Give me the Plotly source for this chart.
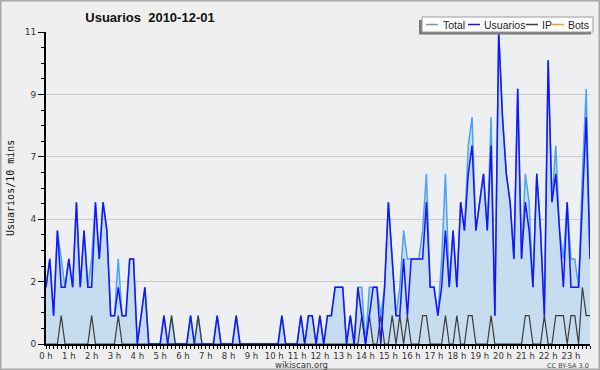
import plotly.graph_objects as go

# ---------------- data (10-minute slots, 2010-12-01) ----------------
TOTAL = [2, 3, 1, 4, 3, 2, 3, 2, 5, 2, 4, 2, 3, 5, 3, 5, 4, 1, 1, 3,
         1, 1, 3, 3, 0, 1, 2, 0, 0, 0, 0, 1, 0, 1, 0, 0, 0, 0, 1, 0,
         1, 0, 0, 0, 0, 1, 0, 0, 0, 0, 1, 0, 0, 0, 0, 0, 0, 0, 0, 0,
         0, 0, 1, 0, 0, 0, 0, 1, 0, 1, 1, 0, 1, 0, 1, 1, 2, 2, 2, 0,
         1, 0, 2, 2, 0, 2, 2, 2, 1, 2, 5, 3, 1, 2, 4, 3, 3, 3, 3, 4,
         6, 2, 2, 1, 3, 6, 2, 4, 2, 5, 4, 7, 8, 4, 5, 6, 4, 8, 1, 11,
         8, 6, 5, 3, 9, 3, 6, 5, 2, 6, 4, 1, 10, 5, 7, 4, 3, 5, 3, 3,
         2, 6, 9, 3]
USUARIOS = [2, 3, 1, 4, 2, 2, 3, 2, 5, 2, 4, 2, 2, 5, 3, 5, 4, 1, 1, 2,
            1, 1, 3, 3, 0, 1, 2, 0, 0, 0, 0, 1, 0, 0, 0, 0, 0, 0, 1, 0,
            0, 0, 0, 0, 0, 1, 0, 0, 0, 0, 1, 0, 0, 0, 0, 0, 0, 0, 0, 0,
            0, 0, 1, 0, 0, 0, 0, 1, 0, 1, 1, 0, 1, 0, 1, 1, 2, 2, 2, 0,
            1, 0, 2, 1, 0, 1, 2, 2, 0, 2, 5, 3, 1, 1, 3, 1, 3, 3, 3, 3,
            5, 2, 2, 1, 2, 4, 2, 4, 2, 5, 4, 6, 7, 4, 5, 6, 4, 7, 1, 11,
            8, 6, 5, 3, 9, 3, 5, 4, 2, 6, 4, 1, 10, 5, 6, 4, 2, 5, 2, 2,
            2, 5, 8, 3]
IP = [0, 0, 0, 0, 1, 0, 0, 0, 0, 0, 0, 0, 1, 0, 0, 0, 0, 0, 0, 1,
      0, 0, 0, 0, 0, 0, 0, 0, 0, 0, 0, 0, 0, 1, 0, 0, 0, 0, 0, 0,
      1, 0, 0, 0, 0, 0, 0, 0, 0, 0, 0, 0, 0, 0, 0, 0, 0, 0, 0, 0,
      0, 0, 0, 0, 0, 0, 0, 0, 0, 0, 0, 0, 0, 0, 0, 0, 0, 0, 0, 0,
      0, 0, 0, 1, 0, 1, 0, 0, 1, 0, 0, 1, 0, 1, 0, 1, 0, 0, 0, 1,
      1, 0, 0, 0, 0, 1, 0, 0, 1, 0, 0, 1, 1, 0, 0, 0, 0, 1, 0, 0,
      0, 0, 0, 0, 0, 0, 1, 1, 0, 0, 0, 1, 0, 0, 1, 1, 1, 0, 1, 1,
      0, 2, 1, 1]
BOTS = [0] * 144

HOUR_LABELS = ["0 h", "1 h", "2 h", "3 h", "4 h", "5 h", "6 h", "7 h",
               "8 h", "9 h", "10 h", "11 h", "12 h", "13 h", "14 h", "15 h",
               "16 h", "17 h", "18 h", "19 h", "20 h", "21 h", "22 h", "23 h"]
Y_TICK_LABELS = ["0", "2", "4", "7", "9", "11"]
SERIES_NAMES = ["Total", "Usuarios", "IP", "Bots"]
TITLE = "Usuarios  2010-12-01"

# ---------------- layout constants ----------------
W, H = 600, 370
L, R, T, B = 46, 10, 32, 26
PW, PH = W - L - R, H - T - B

def px(x):   # pixel -> paper x
    return (x - L) / PW

def py(y):   # pixel -> paper y
    return (H - B - y) / PH

slots = list(range(len(TOTAL)))
SLOTS_PER_HOUR = 6
hour_ticks = [h * SLOTS_PER_HOUR for h in range(len(HOUR_LABELS))]
y_max = max(TOTAL)
n_y = len(Y_TICK_LABELS) - 1
y_ticks = [y_max * k / n_y for k in range(n_y + 1)]

C_FILL = "#c6ddf0"
C_TOTAL = "#4aa3f5"
C_USR = "#1414ff"
C_IP = "#3c3c3c"
C_BOTS = "#ff9a1a"

fig = go.Figure()
fig.add_trace(go.Scatter(x=slots, y=BOTS, name=SERIES_NAMES[3], mode="lines",
                         line=dict(color=C_BOTS, width=1)))
fig.add_trace(go.Scatter(x=slots, y=TOTAL, name=SERIES_NAMES[0], mode="lines",
                         fill="tozeroy", fillcolor=C_FILL,
                         line=dict(color=C_TOTAL, width=1.5)))
fig.add_trace(go.Scatter(x=slots, y=IP, name=SERIES_NAMES[2], mode="lines",
                         line=dict(color=C_IP, width=1.2)))
fig.add_trace(go.Scatter(x=slots, y=USUARIOS, name=SERIES_NAMES[1], mode="lines",
                         line=dict(color=C_USR, width=1.5)))

shapes = []
annotations = []
# outer frame
shapes.append(dict(type="rect", xref="paper", yref="paper",
                   x0=px(0.5), x1=px(W - 0.5), y0=py(0.5), y1=py(H - 0.5),
                   line=dict(color="#a8a8a8", width=2), layer="below"))
# legend: shadow, box, samples, labels
shapes.append(dict(type="rect", xref="paper", yref="paper",
                   x0=px(419), x1=px(591), y0=py(34.5), y1=py(20),
                   fillcolor="#7a7a7a", line=dict(width=0)))
shapes.append(dict(type="rect", xref="paper", yref="paper",
                   x0=px(422), x1=px(593), y0=py(32), y1=py(17),
                   fillcolor="#ffffff", line=dict(color="#9a9a9a", width=1)))
leg_items = [(SERIES_NAMES[0], C_TOTAL, 426, 443),
             (SERIES_NAMES[1], C_USR, 468, 484),
             (SERIES_NAMES[2], C_IP, 526, 542),
             (SERIES_NAMES[3], C_BOTS, 552, 568)]
for name, col, lx, tx in leg_items:
    shapes.append(dict(type="line", xref="paper", yref="paper",
                       x0=px(lx), x1=px(lx + 12), y0=py(24.5), y1=py(24.5),
                       line=dict(color=col, width=1.5)))
    annotations.append(dict(text=name, xref="paper", yref="paper",
                            x=px(tx - 2), y=py(24.5), xanchor="left", yanchor="middle",
                            showarrow=False,
                            font=dict(family="Liberation Sans", size=10.5, color="#222")))

annotations.append(dict(text="wikiscan.org", xref="paper", yref="paper",
                        x=px(301), y=py(365), xanchor="center", yanchor="middle",
                        showarrow=False, borderpad=0,
                        font=dict(family="DejaVu Sans", size=8.5, color="#333")))
annotations.append(dict(text="CC BY-SA 3.0", xref="paper", yref="paper",
                        x=px(590), y=py(366), xanchor="right", yanchor="middle",
                        showarrow=False, borderpad=0,
                        font=dict(family="DejaVu Sans", size=6.5, color="#444")))
annotations.append(dict(text="Usuarios/10 mins", xref="paper", yref="paper",
                        x=px(10), y=0.5, xanchor="center", yanchor="middle",
                        textangle=-90, showarrow=False,
                        font=dict(family="DejaVu Sans Mono", size=10, color="#111")))

fig.update_layout(
    width=W, height=H,
    margin=dict(l=L, r=R, t=T, b=B),
    paper_bgcolor="#efefef",
    plot_bgcolor="#eeeff1",
    showlegend=False,
    title=dict(text=TITLE, x=150 / W, y=1 - 17 / H, xanchor="center", yanchor="middle",
               font=dict(family="Liberation Sans", size=13, color="#111", weight="bold")),
    shapes=shapes,
    annotations=annotations,
    xaxis=dict(range=[0, len(slots) - 1], tickmode="array",
               tickvals=hour_ticks, ticktext=HOUR_LABELS,
               ticks="outside", ticklen=3, tickcolor="#000", tickwidth=1,
               showline=True, linecolor="#000", linewidth=2,
               showgrid=False, zeroline=False,
               tickfont=dict(family="DejaVu Sans", size=8.5, color="#333"),
               minor=dict(tickmode="linear", tick0=0, dtick=1, ticks="outside",
                          ticklen=3, tickcolor="#000", showgrid=False)),
    yaxis=dict(range=[0, y_max], tickmode="array",
               tickvals=y_ticks, ticktext=Y_TICK_LABELS,
               ticks="outside", ticklen=6, tickcolor="#000", tickwidth=1,
               showline=True, linecolor="#000", linewidth=2,
               showgrid=True, gridcolor="#cacaca", gridwidth=1, zeroline=False,
               tickfont=dict(family="DejaVu Sans", size=9, color="#333"),
               minor=dict(tickmode="linear", tick0=0, dtick=y_max / 20, ticks="outside",
                          ticklen=3, tickcolor="#000", showgrid=False)),
)

fig.write_html("out.html",
               config={"displayModeBar": False},
               post_script="document.body.style.margin='0';document.body.style.padding='0';"
                           "document.body.style.overflow='hidden';")
